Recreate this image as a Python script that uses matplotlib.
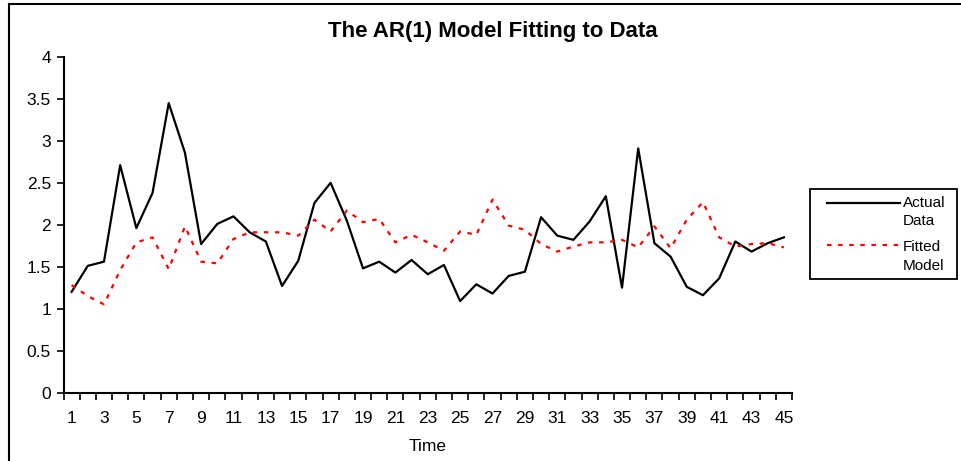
import matplotlib
matplotlib.use("Agg")
import matplotlib.pyplot as plt
from matplotlib.lines import Line2D
from matplotlib.patches import Rectangle

time = list(range(1, 46))
actual = [1.20, 1.51, 1.56, 2.71, 1.96, 2.38, 3.45, 2.86, 1.77, 2.01,
          2.10, 1.91, 1.80, 1.27, 1.57, 2.26, 2.50, 2.05, 1.48, 1.56,
          1.43, 1.58, 1.41, 1.52, 1.09, 1.29, 1.18, 1.39, 1.44, 2.09,
          1.87, 1.82, 2.04, 2.34, 1.25, 2.91, 1.78, 1.62, 1.26, 1.16,
          1.36, 1.80, 1.68, 1.78, 1.85]
fitted = [1.28, 1.15, 1.05, 1.46, 1.79, 1.85, 1.47, 1.98, 1.56, 1.54,
          1.83, 1.91, 1.91, 1.91, 1.87, 2.06, 1.92, 2.17, 2.03, 2.07,
          1.79, 1.88, 1.79, 1.69, 1.92, 1.88, 2.30, 1.99, 1.94, 1.77,
          1.68, 1.74, 1.79, 1.79, 1.82, 1.73, 1.98, 1.72, 2.06, 2.27,
          1.85, 1.74, 1.77, 1.78, 1.73]
yticks = [0, 0.5, 1, 1.5, 2, 2.5, 3, 3.5, 4]
ytick_labels = ["0", "0.5", "1", "1.5", "2", "2.5", "3", "3.5", "4"]
legend_labels = [["Actual", "Data"], ["Fitted", "Model"]]

plt.rcParams['font.family'] = ['Liberation Sans', 'DejaVu Sans']

W, H = 961, 461
fig = plt.figure(figsize=(W / 100, H / 100), dpi=100)
ax = fig.add_axes([63.5 / W, 1 - 392.5 / H, (792 - 63.5) / W, (392.5 - 57) / H])

black_style = dict(color='black', lw=1.6)
red_style = dict(color='red', lw=1.6, linestyle=(0, (2, 3)))
ax.plot(time, actual, **black_style)
ax.plot(time, fitted, **red_style)

ax.set_xlim(0.5, 45.5)
ax.set_ylim(0, 4)
ax.set_yticks(yticks)
ax.set_yticklabels(ytick_labels, fontsize=12.5)
ax.tick_params(axis='y', length=5, width=1.2, direction='out', pad=4)

ax.set_xticks([t for t in time if t % 2 == 1])
ax.set_xticklabels([str(t) for t in time if t % 2 == 1], fontsize=12.5)
ax.set_xticks([t + 0.5 for t in [0] + time], minor=True)
ax.tick_params(axis='x', which='major', length=0, pad=13)
ax.tick_params(axis='x', which='minor', length=5, width=1.2, direction='out')

for s in ['top', 'right']:
    ax.spines[s].set_visible(False)
for s in ['left', 'bottom']:
    ax.spines[s].set_linewidth(1.5)

ax.set_xlabel('Time', fontsize=12.5, labelpad=10)
fig.text((325 + 660) / 2 / W, 1 - 32 / H, 'The AR(1) Model Fitting to Data',
         fontsize=16, fontweight='bold', ha='center', va='center')

# legend (drawn manually, Excel style)
def fx(px):
    return px / W

def fy(py):
    return 1 - py / H

fig.add_artist(Rectangle((fx(810), fy(279)), fx(957) - fx(810), fy(189) - fy(279),
                         transform=fig.transFigure, fill=False, edgecolor='black', lw=1.3))
for (lab, style, yl, yt) in [(legend_labels[0], black_style, 203, (203, 221)),
                             (legend_labels[1], red_style, 245, (247, 266))]:
    fig.add_artist(Line2D([fx(827), fx(900)], [fy(yl), fy(yl)], transform=fig.transFigure, **style))
    for txt, ty in zip(lab, yt):
        fig.text(fx(903), fy(ty), txt, fontsize=11, ha='left', va='center')

# outer chart border (left and top)
fig.add_artist(Line2D([9 / W, 9 / W], [0, 1 - 4 / H], color='black', lw=1.5, transform=fig.transFigure))
fig.add_artist(Line2D([9 / W, 1], [1 - 4 / H, 1 - 4 / H], color='black', lw=1.5, transform=fig.transFigure))

fig.savefig('out.png', dpi=100)
